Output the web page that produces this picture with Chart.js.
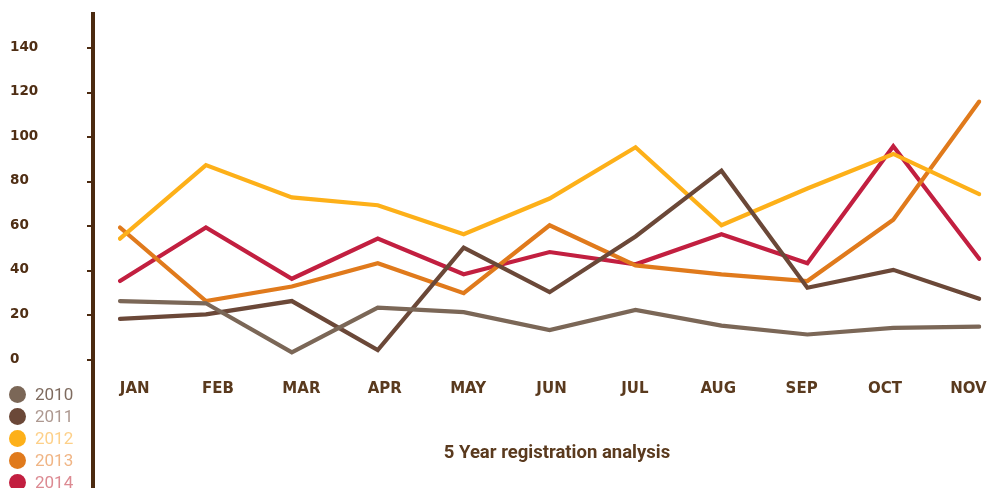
<!DOCTYPE html>
<html>
<head>
<meta charset="utf-8">
<script src="https://cdn.jsdelivr.net/npm/chart.js@4/dist/chart.umd.min.js"></script>
<style>
  html, body { margin: 0; padding: 0; background: #fff; }
  #wrap { position: relative; width: 1008px; height: 488px; overflow: hidden; }
  #chart { position: absolute; left: 0; top: 0; }
  .legend { position: absolute; left: 9px; top: 383px; font-family: Roboto, sans-serif; font-size: 17px; }
  .legend-item { display: flex; align-items: center; height: 22px; }
  .legend-dot { width: 17px; height: 17px; border-radius: 50%; margin-right: 9px; }
  .title { position: absolute; left: 0; width: 1114px; top: 441px; text-align: center;
           font-family: Roboto, sans-serif; font-weight: 700; font-size: 18.5px; color: #5a3a1e; }
</style>
</head>
<body>
<div id="wrap">
  <canvas id="chart" width="1008" height="488"></canvas>
  <div class="legend" id="legend"></div>
  <div class="title">5 Year registration analysis</div>
</div>
<script>
// data
const months = ['JAN', 'FEB', 'MAR', 'APR', 'MAY', 'JUN', 'JUL', 'AUG', 'SEP', 'OCT', 'NOV'];
const years = ['2010', '2011', '2012', '2013', '2014'];
const y2010 = [26, 25, 3, 23, 21, 13, 22, 15, 11, 14, 14.5];
const y2011 = [18, 20, 26, 4, 50, 30, 55, 84.5, 32, 40, 27];
const y2012 = [54, 87, 72.5, 69, 56, 72, 95, 60, 76.5, 92, 74];
const y2013 = [59, 26, 32.5, 43, 29.5, 60, 42, 38, 35, 62.5, 115.5];
const y2014 = [35, 59, 36, 54, 38, 48, 42.5, 56, 43, 95.5, 45];
const yTicks = [0, 20, 40, 60, 80, 100, 120, 140];

const lineColors = ['#7b6757', '#6b4838', '#fdb019', '#e07a1c', '#c21f40'];
const legendTextColors = ['#7e6b5f', '#ad9890', '#fdd089', '#f0b585', '#dc8a92'];

const series = [y2010, y2011, y2012, y2013, y2014];

// left axis line, drawn longer than the plot like in the original
const axisLinePlugin = {
  id: 'axisLine',
  afterDraw(chart) {
    const ctx = chart.ctx;
    const y = chart.scales.y;
    ctx.save();
    ctx.fillStyle = '#4b2a10';
    ctx.fillRect(91, 12, 4, 476);
    yTicks.forEach(t => {
      const py = Math.round(y.getPixelForValue(t));
      ctx.fillRect(87, py, 5, 2);
    });
    ctx.restore();
  }
};

const ctx = document.getElementById('chart').getContext('2d');
new Chart(ctx, {
  type: 'line',
  data: {
    labels: months,
    datasets: years.map((yr, i) => ({
      label: yr,
      data: series[i],
      borderColor: lineColors[i],
      backgroundColor: lineColors[i],
      borderWidth: 4.2,
      borderCapStyle: 'round',
      borderJoinStyle: 'miter',
      tension: 0,
      pointRadius: 0,
      fill: false
    }))
  },
  options: {
    responsive: false,
    animation: false,
    layout: { padding: { left: 10, right: 11, top: 47, bottom: 0 } },
    plugins: { legend: { display: false }, tooltip: { enabled: false }, title: { display: false } },
    scales: {
      x: { type: 'category', display: false, offset: false },
      xl: {
        type: 'linear',
        position: 'bottom',
        min: -0.176,
        max: 10.13,
        grid: { display: false, drawTicks: false },
        border: { display: false },
        afterBuildTicks: axis => { axis.ticks = months.map((m, i) => ({ value: i })); },
        afterFit: axis => { axis.height = 129; },
        ticks: {
          padding: 21,
          maxRotation: 0,
          autoSkip: false,
          color: '#5a3a1e',
          font: { family: 'DejaVu Sans', weight: 'bold', size: 15 },
          callback: v => months[v]
        }
      },
      y: {
        min: 0,
        max: 140,
        grid: { display: false, drawTicks: false },
        border: { display: false },
        afterBuildTicks: axis => { axis.ticks = yTicks.map(v => ({ value: v })); },
        afterFit: axis => { axis.width = 110; },
        ticks: {
          crossAlign: 'far',
          color: '#4f2e14',
          font: { family: 'DejaVu Sans', weight: 'bold', size: 13.5 }
        }
      }
    }
  },
  plugins: [axisLinePlugin]
});

// legend
const legendEl = document.getElementById('legend');
years.forEach((yr, i) => {
  const item = document.createElement('div');
  item.className = 'legend-item';
  item.innerHTML = `<span class="legend-dot" style="background:${lineColors[i]}"></span>` +
    `<span style="color:${legendTextColors[i]}">${yr}</span>`;
  legendEl.appendChild(item);
});
</script>
</body>
</html>
